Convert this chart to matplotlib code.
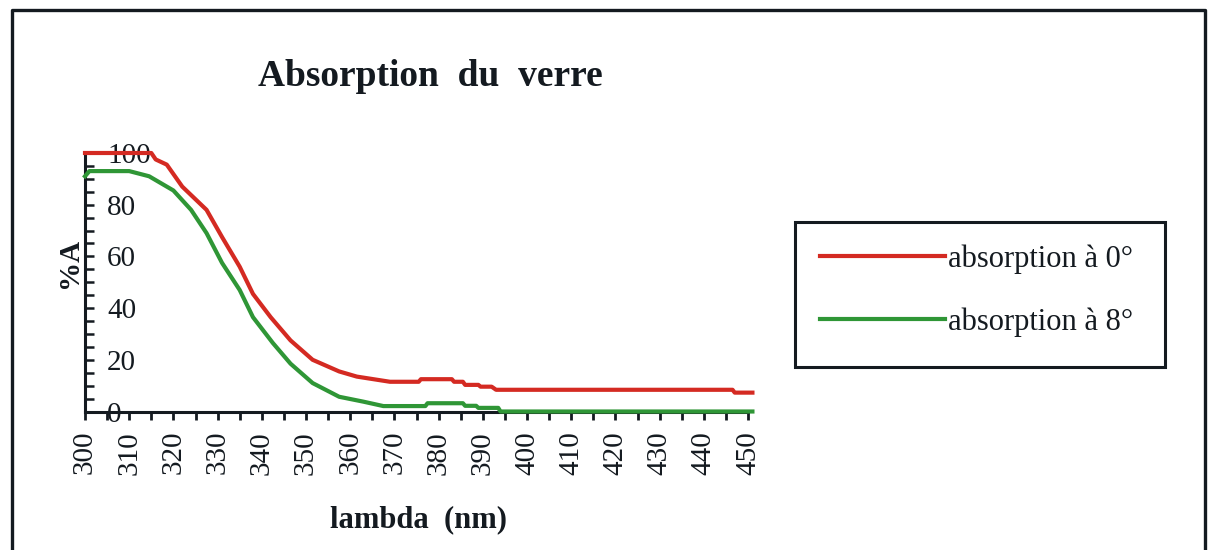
import matplotlib
matplotlib.use("Agg")
import matplotlib.pyplot as plt
from matplotlib.ticker import MultipleLocator
from matplotlib.patches import Rectangle
from matplotlib.lines import Line2D

plt.rcParams['font.family'] = ['Liberation Serif', 'DejaVu Serif']

# Wavelength (nm) and absorption (%) for each incidence angle
wl_0deg = [300, 315, 316, 318.5, 322, 327.5, 331, 335, 338, 342, 346.5, 351.5,
           357.5, 361.5, 369, 375.5, 376, 383, 383.5, 385.5, 386, 389, 389.5,
           392, 393, 446.5, 447, 451]
abs_0deg = [100, 100, 97.5, 95.5, 87, 78, 67.5, 56, 45.5, 36.5, 27.5, 20,
            15.5, 13.5, 11.5, 11.5, 12.5, 12.5, 11.5, 11.5, 10.3, 10.3, 9.6,
            9.6, 8.4, 8.4, 7.3, 7.3]

wl_8deg = [300, 301, 310, 314.5, 320, 324, 327.5, 331, 335, 338, 342.5, 346.5,
           351.5, 357.5, 363, 367.5, 377, 377.5, 385.5, 386, 388.5, 389, 393.5,
           394, 451]
abs_8deg = [91, 93, 93, 91, 85.5, 78, 69, 57.5, 47, 36.5, 26.5, 18.5,
            11, 5.7, 3.8, 2.1, 2.1, 3.2, 3.2, 2.2, 2.2, 1.4, 1.4, 0, 0]

series_labels = ["absorption à 0°", "absorption à 8°"]
x_ticks = list(range(300, 451, 10))
y_ticks = [0, 20, 40, 60, 80, 100]

RED = '#d42a22'
GREEN = '#2f9636'
INK = '#141a20'

W, H = 1209, 550
fig = plt.figure(figsize=(W / 100, H / 100), dpi=100)

def fx(px):
    return px / W

def fy(py):
    return 1 - py / H

ax = fig.add_axes([fx(85), fy(411.5), fx(748) - fx(85), fy(153) - fy(411.5)])

l0, = ax.plot(wl_0deg, abs_0deg, color=RED, lw=3.0, zorder=3, clip_on=False)
l8, = ax.plot(wl_8deg, abs_8deg, color=GREEN, lw=3.0, zorder=3, clip_on=False)

ax.set_xlim(300, 450)
ax.set_ylim(0, 100)
ax.set_facecolor('none')

for s in ('top', 'right'):
    ax.spines[s].set_visible(False)
for s in ('left', 'bottom'):
    ax.spines[s].set_linewidth(2.2)
    ax.spines[s].set_color(INK)
    ax.spines[s].set_zorder(2.5)

ax.set_xticks(x_ticks)
ax.set_xticklabels([str(v) for v in x_ticks], rotation=90)
ax.xaxis.set_minor_locator(MultipleLocator(5))
ax.tick_params(axis='x', which='both', direction='out', length=6,
               width=2.0, color=INK, labelsize=21, pad=8, labelcolor=INK)

ax.set_yticks(y_ticks)
ax.set_yticklabels([str(v) for v in y_ticks])
ax.yaxis.set_minor_locator(MultipleLocator(5))
ax.tick_params(axis='y', which='both', direction='in', length=6.5,
               width=1.8, color=INK, labelsize=21, pad=-16, labelcolor=INK)
for lab in ax.get_yticklabels():
    lab.set_horizontalalignment('left')

# Title and axis titles
fig.text(fx(430), fy(77), "Absorption  du  verre", fontsize=27,
         fontweight='bold', ha='center', va='center', color=INK)
fig.text(fx(418), fy(520), "lambda  (nm)", fontsize=22,
         fontweight='bold', ha='center', va='center', color=INK)
fig.text(fx(70), fy(263), "%A", fontsize=21, fontweight='bold',
         rotation=90, ha='center', va='center', color=INK)

# Legend box
fig.add_artist(Rectangle((fx(795), fy(367)), fx(1165) - fx(795),
                         fy(222) - fy(367), transform=fig.transFigure,
                         fill=False, edgecolor=INK, lw=2.2))
leg = fig.legend([l0, l8], series_labels, loc='upper left',
                 bbox_to_anchor=(fx(820), fy(244)), bbox_transform=fig.transFigure,
                 frameon=False, borderpad=0, borderaxespad=0,
                 handlelength=4.1, handletextpad=0.1, labelspacing=1.1,
                 prop={'size': 22})
for t in leg.get_texts():
    t.set_color(INK)
for h in leg.legend_handles:
    h.set_linewidth(3.0)

# Outer frame (open at the bottom edge of the image)
fig.add_artist(Line2D([fx(12), fx(12), fx(1205), fx(1205)],
                      [0, fy(10), fy(10), 0], transform=fig.transFigure,
                      color=INK, lw=2.4))

fig.savefig("out.png", dpi=100, facecolor='white')
